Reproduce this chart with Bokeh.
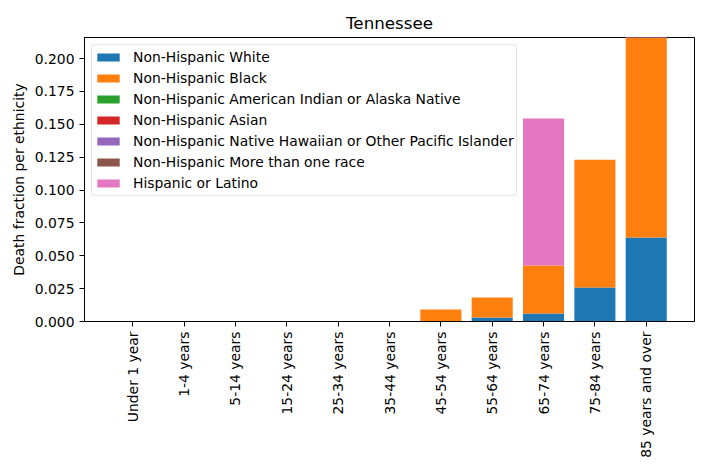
import math
from bokeh.plotting import figure
from bokeh.models import Range1d, FixedTicker, NumeralTickFormatter, Legend, LegendItem
from bokeh.embed import file_html
from bokeh.resources import INLINE

age_groups = ["Under 1 year", "1-4 years", "5-14 years", "15-24 years", "25-34 years",
              "35-44 years", "45-54 years", "55-64 years", "65-74 years", "75-84 years",
              "85 years and over"]

series_names = ["Non-Hispanic White", "Non-Hispanic Black",
                "Non-Hispanic American Indian or Alaska Native", "Non-Hispanic Asian",
                "Non-Hispanic Native Hawaiian or Other Pacific Islander",
                "Non-Hispanic More than one race", "Hispanic or Latino"]

white    = [0, 0, 0, 0, 0, 0, 0.0,    0.0030, 0.0061, 0.0258, 0.0638]
black    = [0, 0, 0, 0, 0, 0, 0.0091, 0.0152, 0.0365, 0.0973, 0.1525]
aian     = [0, 0, 0, 0, 0, 0, 0, 0, 0, 0, 0]
asian    = [0, 0, 0, 0, 0, 0, 0, 0, 0, 0, 0]
nhpi     = [0, 0, 0, 0, 0, 0, 0, 0, 0, 0, 0]
multi    = [0, 0, 0, 0, 0, 0, 0, 0, 0, 0, 0]
hispanic = [0, 0, 0, 0, 0, 0, 0, 0, 0.1117, 0, 0]

colors = ["#1f77b4", "#ff7f0e", "#2ca02c", "#d62728", "#9467bd", "#8c564b", "#e377c2"]

x = list(range(len(age_groups)))
keys = ["white", "black", "aian", "asian", "nhpi", "multi", "hispanic"]
data = dict(x=x, white=white, black=black, aian=aian, asian=asian, nhpi=nhpi,
            multi=multi, hispanic=hispanic)

FONT = "DejaVu Sans"
FS = "13.9px"

p = figure(width=700, height=464, output_backend="svg", toolbar_location=None,
           x_range=Range1d(-0.94, 10.94), y_range=Range1d(0, 0.216),
           min_border_left=84, min_border_right=6, min_border_top=37, min_border_bottom=143)

renderers = p.vbar_stack(keys, x="x", width=0.8, color=colors, source=data, line_width=0)

p.title.text = "Tennessee"
p.title.align = "center"
p.title.text_font = FONT
p.title.text_font_size = "16.7px"
p.title.text_font_style = "normal"
p.title.text_color = "black"

p.xgrid.visible = False
p.ygrid.visible = False
p.outline_line_color = "black"
p.outline_line_width = 1
p.background_fill_color = "white"
p.border_fill_color = "white"

p.xaxis.ticker = FixedTicker(ticks=x)
p.xaxis.major_label_overrides = {i: lab for i, lab in enumerate(age_groups)}
p.xaxis.major_label_orientation = math.pi / 2
p.yaxis.ticker = FixedTicker(ticks=[0, 0.025, 0.05, 0.075, 0.1, 0.125, 0.15, 0.175, 0.2])
p.yaxis.formatter = NumeralTickFormatter(format="0.000")
p.yaxis.axis_label = "Death fraction per ethnicity"

for ax in (p.xaxis[0], p.yaxis[0]):
    ax.major_label_text_font = FONT
    ax.major_label_text_font_size = FS
    ax.major_label_text_color = "black"
    ax.axis_label_text_font = FONT
    ax.axis_label_text_font_size = FS
    ax.axis_label_text_font_style = "normal"
    ax.axis_label_text_color = "black"
    ax.major_tick_in = 0
    ax.major_tick_out = 5
    ax.minor_tick_line_color = None
    ax.axis_line_color = "black"
    ax.major_tick_line_color = "black"

legend = Legend(items=[LegendItem(label=n, renderers=[r]) for n, r in zip(series_names, renderers)],
                location="top_left")
legend.label_text_font = FONT
legend.label_text_font_size = FS
legend.label_text_color = "black"
legend.glyph_width = 28
legend.glyph_height = 10
legend.label_standoff = 11
legend.spacing = 1
legend.label_height = 20
legend.padding = 2
legend.margin = 7
legend.border_line_color = "#cccccc"
legend.border_radius = 3
legend.background_fill_alpha = 0.8
p.add_layout(legend)

open("out.html", "w").write(file_html(p, INLINE))
